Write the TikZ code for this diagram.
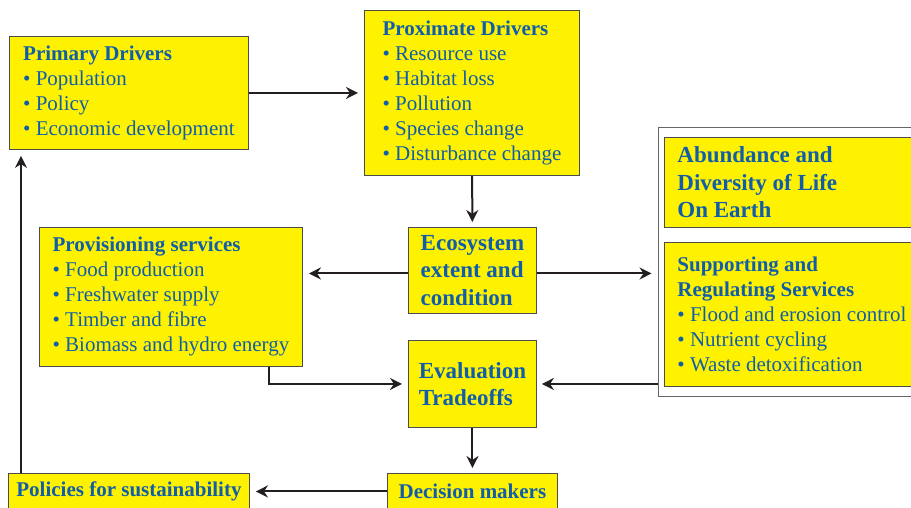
\documentclass[tikz,border=0pt]{standalone}
\usepackage{fontspec}
\setmainfont{Liberation Serif}
\usetikzlibrary{arrows.meta, fit, calc}

\definecolor{boxyellow}{RGB}{255,242,0}
\definecolor{textblue}{RGB}{16,94,170}
\definecolor{linegray}{RGB}{35,31,32}
\newcommand{\itm}{\textbullet\ }

\begin{document}
\begin{tikzpicture}[
    x=1pt, y=-1pt,
    % yellow boxes, text block centred inside
    box/.style={rectangle, draw=black!70, line width=0.9pt, fill=boxyellow, anchor=north west, align=left, inner sep=0pt, text=textblue, font=\fontsize{21}{25}\selectfont},
    bigbox/.style={box, font=\fontsize{23}{27.5}\selectfont\bfseries},
    % boxes cut by the right edge: fixed text width, normal spaces
    sidebox/.style={text width=250pt, inner xsep=13pt, execute at begin node={\spaceskip=0pt\xspaceskip=0pt}},
    arrow/.style={-{Stealth[length=12pt, width=12pt]}, line width=2pt, draw=linegray}
]
    \useasboundingbox (0,0) rectangle (911,507);
    \clip (0,0) rectangle (911,507);

    % --- Driver Boxes ---
    \node[box, minimum width=239pt, minimum height=113pt] (prim) at (9,36) {\textbf{Primary Drivers}\\\itm Population\\\itm Policy\\\itm Economic development};
    \node[box, minimum width=215pt, minimum height=165pt] (prox) at (364,10) {\textbf{Proximate Drivers}\\\itm Resource use\\\itm Habitat loss\\\itm Pollution\\\itm Species change\\\itm Disturbance change};

    % --- Middle Column ---
    \node[bigbox, minimum width=128pt, minimum height=86pt] (eco) at (408,227) {Ecosystem\\extent and\\condition};
    \node[bigbox, minimum width=128pt, minimum height=87pt] (eval) at (408,340) {Evaluation\\Tradeoffs};
    \node[box, font=\fontsize{21}{25}\selectfont\bfseries, minimum width=170pt, minimum height=36pt] (dec) at (387,473) {Decision makers};
    \node[box, font=\fontsize{21}{25}\selectfont\bfseries, minimum width=241pt, minimum height=36pt] (pol) at (8,473) {Policies for sustainability};

    % --- Services ---
    \node[box, minimum width=263pt, minimum height=139pt] (prov) at (39,227) {\textbf{Provisioning services}\\\itm Food production\\\itm Freshwater supply\\\itm Timber and fibre\\\itm Biomass and hydro energy};
    \node[bigbox, sidebox, minimum height=90pt] (abund) at (664,137) {Abundance and\\Diversity of Life\\On Earth};
    \node[box, sidebox, minimum height=144pt] (supp) at (664,242) {\textbf{Supporting and}\\\textbf{Regulating Services}\\\itm Flood and erosion control\\\itm Nutrient cycling\\\itm Waste detoxification};
    \node[draw=black!60, line width=0.9pt, inner xsep=6pt, inner ysep=9.5pt, fit=(abund)(supp)] (life) {};

    % --- Connections ---
    \draw[arrow, shorten >=6pt] (prim) -- (prox);
    \draw[arrow, shorten >=5pt] (prox) -- (eco);
    \draw[arrow, shorten >=6pt] ([yshift=-3pt]eco.west) -- ([yshift=-3pt]eco.west -| prov.east);
    \draw[arrow, shorten >=6pt] ([yshift=-3pt]eco.east) -- ([yshift=-3pt]eco.east -| life.west);
    \draw[arrow, shorten >=6pt] ([xshift=-34pt]prov.south east) |- (eval.west);
    \draw[arrow, shorten >=5pt] (life.west |- eval.east) -- (eval.east);
    \draw[arrow, shorten >=5pt] (eval) -- (dec);
    \draw[arrow, shorten >=6pt] (dec) -- (pol);
    \draw[arrow, shorten >=6pt] ([xshift=13pt]pol.north west) -- ([xshift=13pt]pol.north west |- prim.south);

\end{tikzpicture}
\end{document}
